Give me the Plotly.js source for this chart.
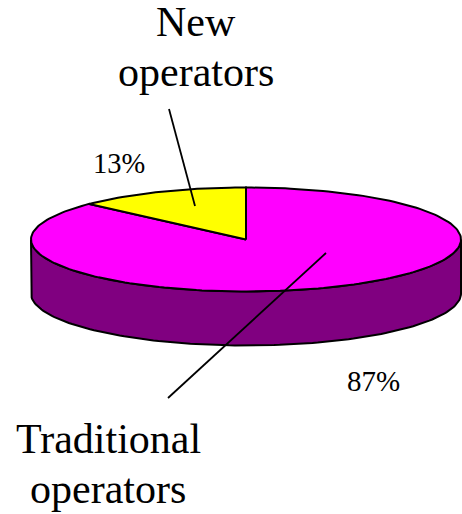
<!DOCTYPE html>
<html><head><meta charset="utf-8">
<script src="https://cdn.plot.ly/plotly-3.0.1.min.js"></script>
<style>html,body{margin:0;padding:0;background:#fff}#c{width:462px;height:514px}</style>
</head><body><div id="c"></div>
<script>
const categories = ['New operators', 'Traditional operators'];
const values = [13, 87];
const percentLabels = ['13%', '87%'];
const sliceColors = ['#ffff00', '#ff00ff'];
const wallColor = '#800080';
const labelLines = ['New', 'operators', 'Traditional', 'operators', '13%', '87%'];
const labelX = [196, 196, 108, 108, 118.5, 373];
const labelBaseY = [37, 87, 454, 504, 174, 392];
const labelSize = [42, 42, 42, 42, 28.5, 29];

const cx = 246, cy = 239.5, rx = 215, ry = 52, depth = 54;
const total = values.reduce((a, b) => a + b, 0);
const pt = deg => {
  const t = deg * Math.PI / 180;
  return [cx + rx * Math.sin(t), cy - ry * Math.cos(t)];
};
function arc(from, to) {
  const out = [], n = Math.max(2, Math.ceil(Math.abs(to - from) / 1.5));
  for (let i = 0; i <= n; i++) out.push(pt(from + (to - from) * i / n));
  return out;
}
const line = {color: '#000', width: 2};
const traces = [];
const lower = arc(90, 270);
const wall = lower.concat(lower.slice().reverse().map(p => [p[0], p[1] + depth]));
wall.push(wall[0]);
traces.push({x: wall.map(p => p[0]), y: wall.map(p => p[1]), mode: 'lines', fill: 'toself',
  fillcolor: wallColor, line, hoverinfo: 'skip', showlegend: false});
let end = 360;
values.forEach((v, i) => {
  const start = end - v / total * 360;
  const pts = [[cx, cy]].concat(arc(start, end), [[cx, cy]]);
  traces.push({x: pts.map(p => p[0]), y: pts.map(p => p[1]), mode: 'lines', fill: 'toself',
    fillcolor: sliceColors[i], line, name: categories[i], text: percentLabels[i],
    hoverinfo: 'name+text', showlegend: false});
  end = start;
});
traces.push(traces.splice(1, 1)[0]);

const leader = (x0, y0, x1, y1) => ({type: 'line', xref: 'x', yref: 'y', x0, y0, x1, y1,
  line: {color: '#000', width: 1.8}});
const annotations = labelLines.map((t, i) => ({
  text: t, x: labelX[i], y: labelBaseY[i], xref: 'x', yref: 'y', showarrow: false,
  xanchor: 'center', yanchor: 'bottom', yshift: -labelSize[i] * 0.205,
  font: {family: '"Liberation Serif", serif', size: labelSize[i], color: '#000'},
  borderpad: 0
}));
Plotly.newPlot('c', traces, {
  width: 462, height: 514, margin: {l: 0, r: 0, t: 0, b: 0, pad: 0},
  paper_bgcolor: '#fff', plot_bgcolor: '#fff',
  xaxis: {range: [0, 462], visible: false, fixedrange: true},
  yaxis: {range: [514, 0], visible: false, fixedrange: true},
  shapes: [leader(169, 109, 195, 206), leader(168, 398, 326, 253)],
  annotations, showlegend: false
}, {displayModeBar: false, staticPlot: true});
</script></body></html>
